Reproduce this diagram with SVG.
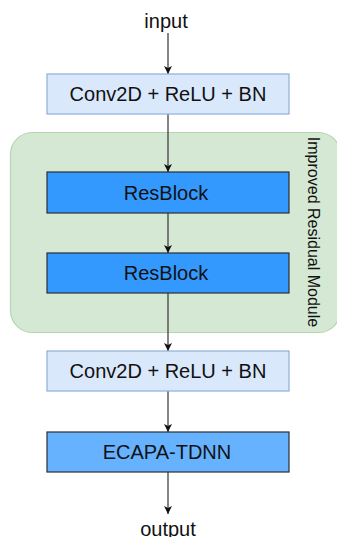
<svg xmlns="http://www.w3.org/2000/svg" width="337" height="537" viewBox="0 0 337 537">
  <style>
    .label { font-family: "Liberation Sans", Arial, sans-serif; font-size: 20px; fill: #111111; text-anchor: middle; }
    .conv { fill: #dae8fc; stroke: #8fadd8; stroke-width: 1.2; }
    .res { fill: #3399ff; stroke: #2b2f33; stroke-width: 1.2; }
    .ecapa { fill: #66b2ff; stroke: #2b2f33; stroke-width: 1.2; }
    .edge { stroke: #333333; stroke-width: 1.2; fill: none; marker-end: url(#arrow); }
  </style>
  <defs>
    <marker id="arrow" viewBox="0 0 10 10" refX="10" refY="5" markerWidth="8" markerHeight="8" markerUnits="userSpaceOnUse" orient="auto">
      <path d="M0,0 L10,5 L0,10 L2.5,5 Z" fill="#111111"/>
    </marker>
  </defs>

  <rect width="337" height="537" fill="#ffffff"/>

  <!-- container: improved residual module -->
  <g id="residual-module">
    <rect x="10.5" y="132.5" width="330" height="200" rx="22" ry="22" fill="#d5e8d4" stroke="#b5d6ad" stroke-width="1.2"/>
    <text class="label" style="font-size:16px" transform="translate(308,232) rotate(90)">Improved Residual Module</text>
  </g>

  <!-- connectors -->
  <g id="connectors">
    <line class="edge" x1="168" y1="33" x2="168" y2="74"/>
    <line class="edge" x1="168" y1="114" x2="168" y2="172"/>
    <line class="edge" x1="168" y1="213" x2="168" y2="253"/>
    <line class="edge" x1="168" y1="293" x2="168" y2="351"/>
    <line class="edge" x1="168" y1="391" x2="168" y2="432"/>
    <line class="edge" x1="168" y1="472" x2="168" y2="514"/>
  </g>

  <g id="input">
    <text class="label" x="166" y="28">input</text>
  </g>

  <g id="conv-1">
    <rect class="conv" x="47" y="74" width="242" height="40"/>
    <text class="label" x="168" y="101">Conv2D + ReLU + BN</text>
  </g>

  <g id="resblock-1">
    <rect class="res" x="47" y="172" width="242" height="41"/>
    <text class="label" x="166" y="200">ResBlock</text>
  </g>

  <g id="resblock-2">
    <rect class="res" x="47" y="253" width="242" height="40"/>
    <text class="label" x="166" y="280">ResBlock</text>
  </g>

  <g id="conv-2">
    <rect class="conv" x="47" y="351" width="242" height="40"/>
    <text class="label" x="168" y="378">Conv2D + ReLU + BN</text>
  </g>

  <g id="ecapa-tdnn">
    <rect class="ecapa" x="47" y="432" width="242" height="40"/>
    <text class="label" x="167" y="459">ECAPA-TDNN</text>
  </g>

  <g id="output">
    <text class="label" x="168" y="536">output</text>
  </g>
</svg>
